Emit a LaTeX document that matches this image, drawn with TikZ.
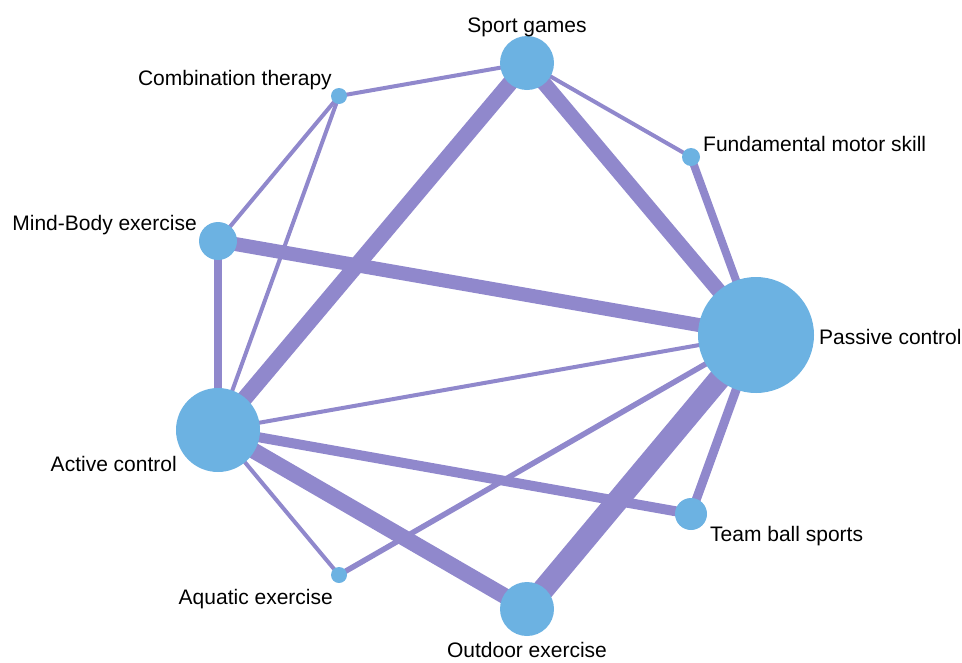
\documentclass[tikz,border=0pt]{standalone}
\usepackage{fontspec}
\setmainfont{Liberation Sans}
\usetikzlibrary{backgrounds}
\definecolor{nodeblue}{RGB}{108,178,226}
\definecolor{edgepurple}{RGB}{144,136,204}
\tikzset{
  vtx/.style={circle, fill=nodeblue, draw=none, inner sep=0pt, minimum size=#1},
  lbl/.style={inner sep=0pt, font=\fontsize{21}{25}\selectfont, text=black},
  edg/.style={draw=edgepurple, line width=#1, line cap=butt}
}
\begin{document}
\begin{tikzpicture}[x=1pt,y=-1pt]
\useasboundingbox (0,0) rectangle (962,662);
% vertices
\node[vtx=54pt]  (sport) at (527,63) {};
\node[vtx=16pt]  (comb) at (339,96) {};
\node[vtx=18pt]  (fund) at (691,157) {};
\node[vtx=38pt]  (mind) at (218,241) {};
\node[vtx=116pt] (pass) at (756,335) {};
\node[vtx=84pt]  (act) at (218,430) {};
\node[vtx=32pt]  (team) at (691,514) {};
\node[vtx=16pt]  (aqua) at (339,575) {};
\node[vtx=54pt]  (out) at (527,609) {};
% labels
\node[lbl, anchor=base] (lsport) at (527,32) {Sport games};
\node[lbl, anchor=base east] (lcomb) at (332,85) {Combination therapy};
\node[lbl, anchor=base west] (lfund) at (703,151) {Fundamental motor skill};
\node[lbl, anchor=base east] (lmind) at (197,230) {Mind-Body exercise};
\node[lbl, anchor=base west] (lpass) at (819,344) {Passive control};
\node[lbl, anchor=base east] (lact) at (177,471) {Active control};
\node[lbl, anchor=base west] (lteam) at (710,541) {Team ball sports};
\node[lbl, anchor=base east] (laqua) at (333,604) {Aquatic exercise};
\node[lbl, anchor=base] (lout) at (527,657) {Outdoor exercise};
% edges
\begin{pgfonlayer}{background}
\draw[edg=4pt]  (sport.center) -- (comb.center);
\draw[edg=4pt]  (sport.center) -- (fund.center);
\draw[edg=15pt] (sport.center) -- (pass.center);
\draw[edg=16pt] (sport.center) -- (act.center);
\draw[edg=4pt]  (comb.center) -- (mind.center);
\draw[edg=4pt]  (comb.center) -- (act.center);
\draw[edg=8pt]  (fund.center) -- (pass.center);
\draw[edg=14pt] (mind.center) -- (pass.center);
\draw[edg=7.5pt] (mind.center) -- (act.center);
\draw[edg=4pt]  (act.center) -- (pass.center);
\draw[edg=10pt] (act.center) -- (team.center);
\draw[edg=16pt] (act.center) -- (out.center);
\draw[edg=4pt]  (act.center) -- (aqua.center);
\draw[edg=5.5pt] (aqua.center) -- (pass.center);
\draw[edg=22pt] (out.center) -- (pass.center);
\draw[edg=9pt]  (team.center) -- (pass.center);
\end{pgfonlayer}
\end{tikzpicture}
\end{document}
